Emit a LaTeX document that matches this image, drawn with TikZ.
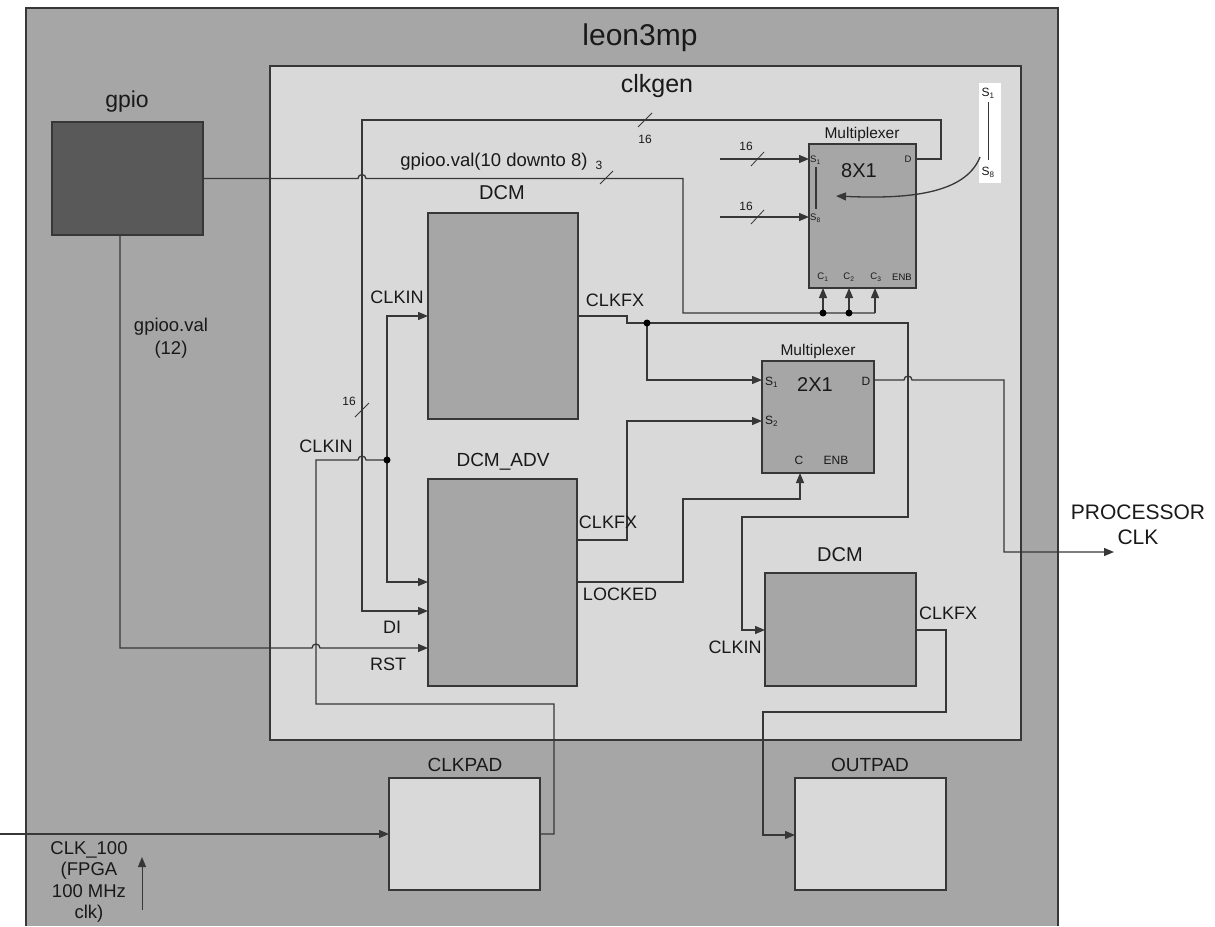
\documentclass[tikz,border=0pt]{standalone}
\usepackage{fontspec}
\setmainfont{Liberation Sans}
\usetikzlibrary{arrows.meta}
\definecolor{outerg}{RGB}{166,166,166}
\definecolor{innerg}{RGB}{217,217,217}
\definecolor{gpiog}{RGB}{89,89,89}
\definecolor{wireg}{RGB}{55,55,55}
\definecolor{txtg}{RGB}{25,25,25}
\newcommand{\fsz}[1]{\fontsize{#1}{#1}\selectfont}
\begin{document}
\begin{tikzpicture}[x=1pt,y=-1pt,
  box/.style={draw=wireg,line width=1.3pt,inner sep=0pt,outer sep=0pt,anchor=north west},
  wire/.style={draw=wireg,line width=1.3pt},
  arr/.style={wire,-{Triangle[length=10pt,width=8pt]}},
  lbl/.style={font=\fsz{18},text=txtg,inner sep=0pt},
  small/.style={font=\fsz{12},text=txtg,inner sep=0pt},
  tiny/.style={font=\fsz{9.5},text=txtg,inner sep=0pt},
  dot/.style={circle,fill=black,inner sep=0pt,minimum size=7pt},
  slash/.style={draw=wireg,line width=0.8pt}
]
\useasboundingbox (0,0) rectangle (1215,926);
% outer leon3mp
\fill[outerg] (26,8) rectangle (1058,926);
\draw[wireg,line width=1.3pt] (26,926) -- (26,8) -- (1058,8) -- (1058,926);
\node[font=\fsz{30},text=txtg] (tleon) at (640,38) {leon3mp};
% clkgen
\node[box,fill=innerg,minimum width=751pt,minimum height=674pt] (clkgen) at (270,66) {};
\node[font=\fsz{25},text=txtg] (tclk) at (657,86) {clkgen};
% blocks
\node[box,fill=gpiog,minimum width=151pt,minimum height=113pt] (gpio) at (52,122) {};
\node[font=\fsz{23},text=txtg] (tgpio) at (127,102) {gpio};
\node[box,fill=outerg,minimum width=150pt,minimum height=206pt] (dcm1) at (428,213) {};
\node[lbl,font=\fsz{20}] (tdcm1) at (502,193) {DCM};
\node[box,fill=outerg,minimum width=149pt,minimum height=207pt] (dcmadv) at (428,479) {};
\node[lbl,font=\fsz{19}] (tdcmadv) at (503,462) {DCM\_ADV};
\node[box,fill=outerg,minimum width=107pt,minimum height=144pt] (mux8) at (809,144) {};
\node[lbl,font=\fsz{15.5}] (tmux8) at (862,134) {Multiplexer};
\node[lbl,font=\fsz{20}] (t8x1) at (859,171) {8X1};
\node[box,fill=outerg,minimum width=112pt,minimum height=112pt] (mux2) at (762,361) {};
\node[lbl,font=\fsz{15.5}] (tmux2) at (818,351) {Multiplexer};
\node[lbl,font=\fsz{20}] (t2x1) at (815,385) {2X1};
\node[box,fill=outerg,minimum width=151pt,minimum height=113pt] (dcm2) at (765,573) {};
\node[lbl,font=\fsz{20}] (tdcm2) at (840,555) {DCM};
\node[box,fill=innerg,minimum width=151pt,minimum height=112pt] (clkpad) at (389,778) {};
\node[lbl,font=\fsz{19}] (tclkpad) at (465,765) {CLKPAD};
\node[box,fill=innerg,minimum width=151pt,minimum height=112pt] (outpad) at (795,778) {};
\node[lbl,font=\fsz{19}] (toutpad) at (870,765) {OUTPAD};
% legend S1..S8
\node[fill=white,inner sep=0pt,minimum width=22pt,minimum height=100pt,anchor=north west] (legend) at (979,83) {};
\node[small] (ls1) at (988,93) {S\textsubscript{1}};
\node[small] (ls8) at (988,172) {S\textsubscript{8}};
\draw[wireg,line width=1pt] (988,102) -- (988,160);
% mux8 pin labels
\node[tiny,anchor=west] (m8s1) at (810,160) {S\textsubscript{1}};
\node[tiny,anchor=west] (m8s8) at (810,218) {S\textsubscript{8}};
\draw[wireg,line width=1.2pt] (816,167) -- (816,209);
\node[tiny] (m8d) at (908,159) {D};
\node[tiny] (m8c1) at (823,277) {C\textsubscript{1}};
\node[tiny] (m8c2) at (849,277) {C\textsubscript{2}};
\node[tiny] (m8c3) at (876,277) {C\textsubscript{3}};
\node[tiny] (m8enb) at (902,277) {ENB};
% mux2 pin labels
\node[small,anchor=west] (m2s1) at (765,382) {S\textsubscript{1}};
\node[small,anchor=west] (m2s2) at (765,421) {S\textsubscript{2}};
\node[small] (m2d) at (866,381) {D};
\node[small] (m2c) at (799,460) {C};
\node[small] (m2enb) at (836,460) {ENB};
% coordinates
\coordinate (gpo) at (203,178.5);
\coordinate (bus3) at (683,178.5);
\coordinate (cbus) at (683,313);
\coordinate (j1) at (823,313);
\coordinate (j2) at (849,313);
\coordinate (j3) at (875,313);
\coordinate (c1) at (823,288);
\coordinate (c2) at (849,288);
\coordinate (c3) at (875,288);
\coordinate (m8D) at (916,159);
\coordinate (loopA) at (941,159);
\coordinate (loopB) at (941,120);
\coordinate (loopC) at (362,120);
\coordinate (loopD) at (362,611);
\coordinate (diin) at (428,611);
\coordinate (dot1) at (387,460);
\coordinate (ck1a) at (387,316);
\coordinate (ck1in) at (428,316);
\coordinate (ck2a) at (387,582);
\coordinate (ck2in) at (428,582);
\coordinate (ckL) at (316,460);
\coordinate (ckLb) at (316,704);
\coordinate (ckR) at (554,704);
\coordinate (ckRb) at (554,834);
\coordinate (clkin0) at (0,834);
\coordinate (gpb) at (120,235);
\coordinate (gpc) at (120,648);
\coordinate (rstin) at (428,648);
\coordinate (fx1) at (577,316);
\coordinate (fx1a) at (627,316);
\coordinate (fx1b) at (627,323);
\coordinate (dot2) at (647,323);
\coordinate (fx1c) at (908,323);
\coordinate (fx1d) at (908,517);
\coordinate (fx1e) at (742,517);
\coordinate (fx1f) at (742,630);
\coordinate (dcm2in) at (765,630);
\coordinate (s1b) at (647,380);
\coordinate (s1in) at (762,380);
\coordinate (fx2) at (577,540);
\coordinate (fx2a) at (627,540);
\coordinate (fx2b) at (627,421);
\coordinate (s2in) at (762,421);
\coordinate (lk) at (577,582);
\coordinate (lka) at (683,582);
\coordinate (lkb) at (683,499);
\coordinate (lkc) at (800,499);
\coordinate (cin) at (800,473);
\coordinate (m2D) at (874,380);
\coordinate (pa) at (1004,380);
\coordinate (pb) at (1004,552);
\coordinate (pc) at (1114,552);
\coordinate (fx3) at (916,630);
\coordinate (fx3a) at (946,630);
\coordinate (fx3b) at (946,712);
\coordinate (fx3c) at (763,712);
\coordinate (fx3d) at (763,835);
\coordinate (outin) at (795,835);
\coordinate (in1a) at (720,159);
\coordinate (in1b) at (809,159);
\coordinate (in8a) at (720,217);
\coordinate (in8b) at (809,217);
\coordinate (cvA) at (980,157);
\coordinate (cvB) at (836,196);
\coordinate (upA) at (142,910);
\coordinate (upB) at (142,857);
% wires
\draw[wire] (gpo) -- (358,178.5) arc[start angle=180,end angle=0,radius=4pt] -- (bus3) -- (cbus) -- (j3);
\draw[arr] (j1) -- (c1);
\draw[arr] (j2) -- (c2);
\draw[arr] (j3) -- (c3);
\node[dot] (d1) at (j1) {};
\node[dot] (d2) at (j2) {};
\draw[slash] (600,184) -- (613,171);
\node[small] (t3) at (599,165) {3};
\node[lbl,font=\fsz{18.5}] (tgv) at (494,162) {gpioo.val(10 downto 8)};
\draw[arr] (m8D) -- (loopA) -- (loopB) -- (loopC) -- (loopD) -- (diin);
\draw[slash] (638,127) -- (652,113);
\node[small] (t16a) at (645,139) {16};
\draw[slash] (355,417) -- (369,403);
\node[small] (t16b) at (349,401) {16};
\draw[arr] (dot1) -- (ck1a) -- (ck1in);
\draw[arr] (dot1) -- (ck2a) -- (ck2in);
\draw[wire] (dot1) -- (366,460) arc[start angle=0,end angle=180,radius=4pt] -- (ckL) -- (ckLb) -- (ckR) -- (ckRb) -- (clkpad.east);
\node[dot] (d3) at (dot1) {};
\draw[arr] (clkin0) -- (clkpad.west);
\draw[arr] (gpb) -- (gpc) -- (312,648) arc[start angle=180,end angle=0,radius=4pt] -- (rstin);
\draw[arr] (fx1) -- (fx1a) -- (fx1b) -- (fx1c) -- (fx1d) -- (fx1e) -- (fx1f) -- (dcm2in);
\draw[arr] (dot2) -- (s1b) -- (s1in);
\node[dot] (d4) at (dot2) {};
\draw[arr] (fx2) -- (fx2a) -- (fx2b) -- (s2in);
\draw[arr] (lk) -- (lka) -- (lkb) -- (lkc) -- (cin);
\draw[arr] (m2D) -- (904,380) arc[start angle=180,end angle=0,radius=4pt] -- (pa) -- (pb) -- (pc);
\draw[arr] (fx3) -- (fx3a) -- (fx3b) -- (fx3c) -- (fx3d) -- (outin);
\draw[arr] (in1a) -- (in1b);
\draw[slash] (751,166) -- (764,152);
\node[small] (t16c) at (746,146) {16};
\draw[arr] (in8a) -- (in8b);
\draw[slash] (751,224) -- (764,210);
\node[small] (t16d) at (746,206) {16};
\draw[arr] (cvA) .. controls (965,195) and (905,199) .. (cvB);
\draw[arr,line width=1pt] (upA) -- (upB);
% labels
\node[lbl] (lck1) at (397,297) {CLKIN};
\node[lbl] (lfx1) at (615,300) {CLKFX};
\node[lbl] (lck2) at (326,446) {CLKIN};
\node[lbl] (ldi) at (392,627) {DI};
\node[lbl] (lrst) at (388,664) {RST};
\node[lbl] (lfx2) at (608,522) {CLKFX};
\node[lbl] (llk) at (620,594) {LOCKED};
\node[lbl] (lck3) at (735,647) {CLKIN};
\node[lbl] (lfx3) at (948,613) {CLKFX};
\node[lbl,font=\fsz{21},align=center] (lproc) at (1138,525) {PROCESSOR\\[4pt]CLK};
\node[lbl,font=\fsz{18.5},align=center] (lgv12) at (171,338) {gpioo.val\\[4pt](12)};
\node[lbl,font=\fsz{18.5},align=center] (lclk100) at (89,882) {CLK\_100\\[3pt](FPGA\\[3pt]100 MHz\\[3pt]clk)};
\end{tikzpicture}
\end{document}
